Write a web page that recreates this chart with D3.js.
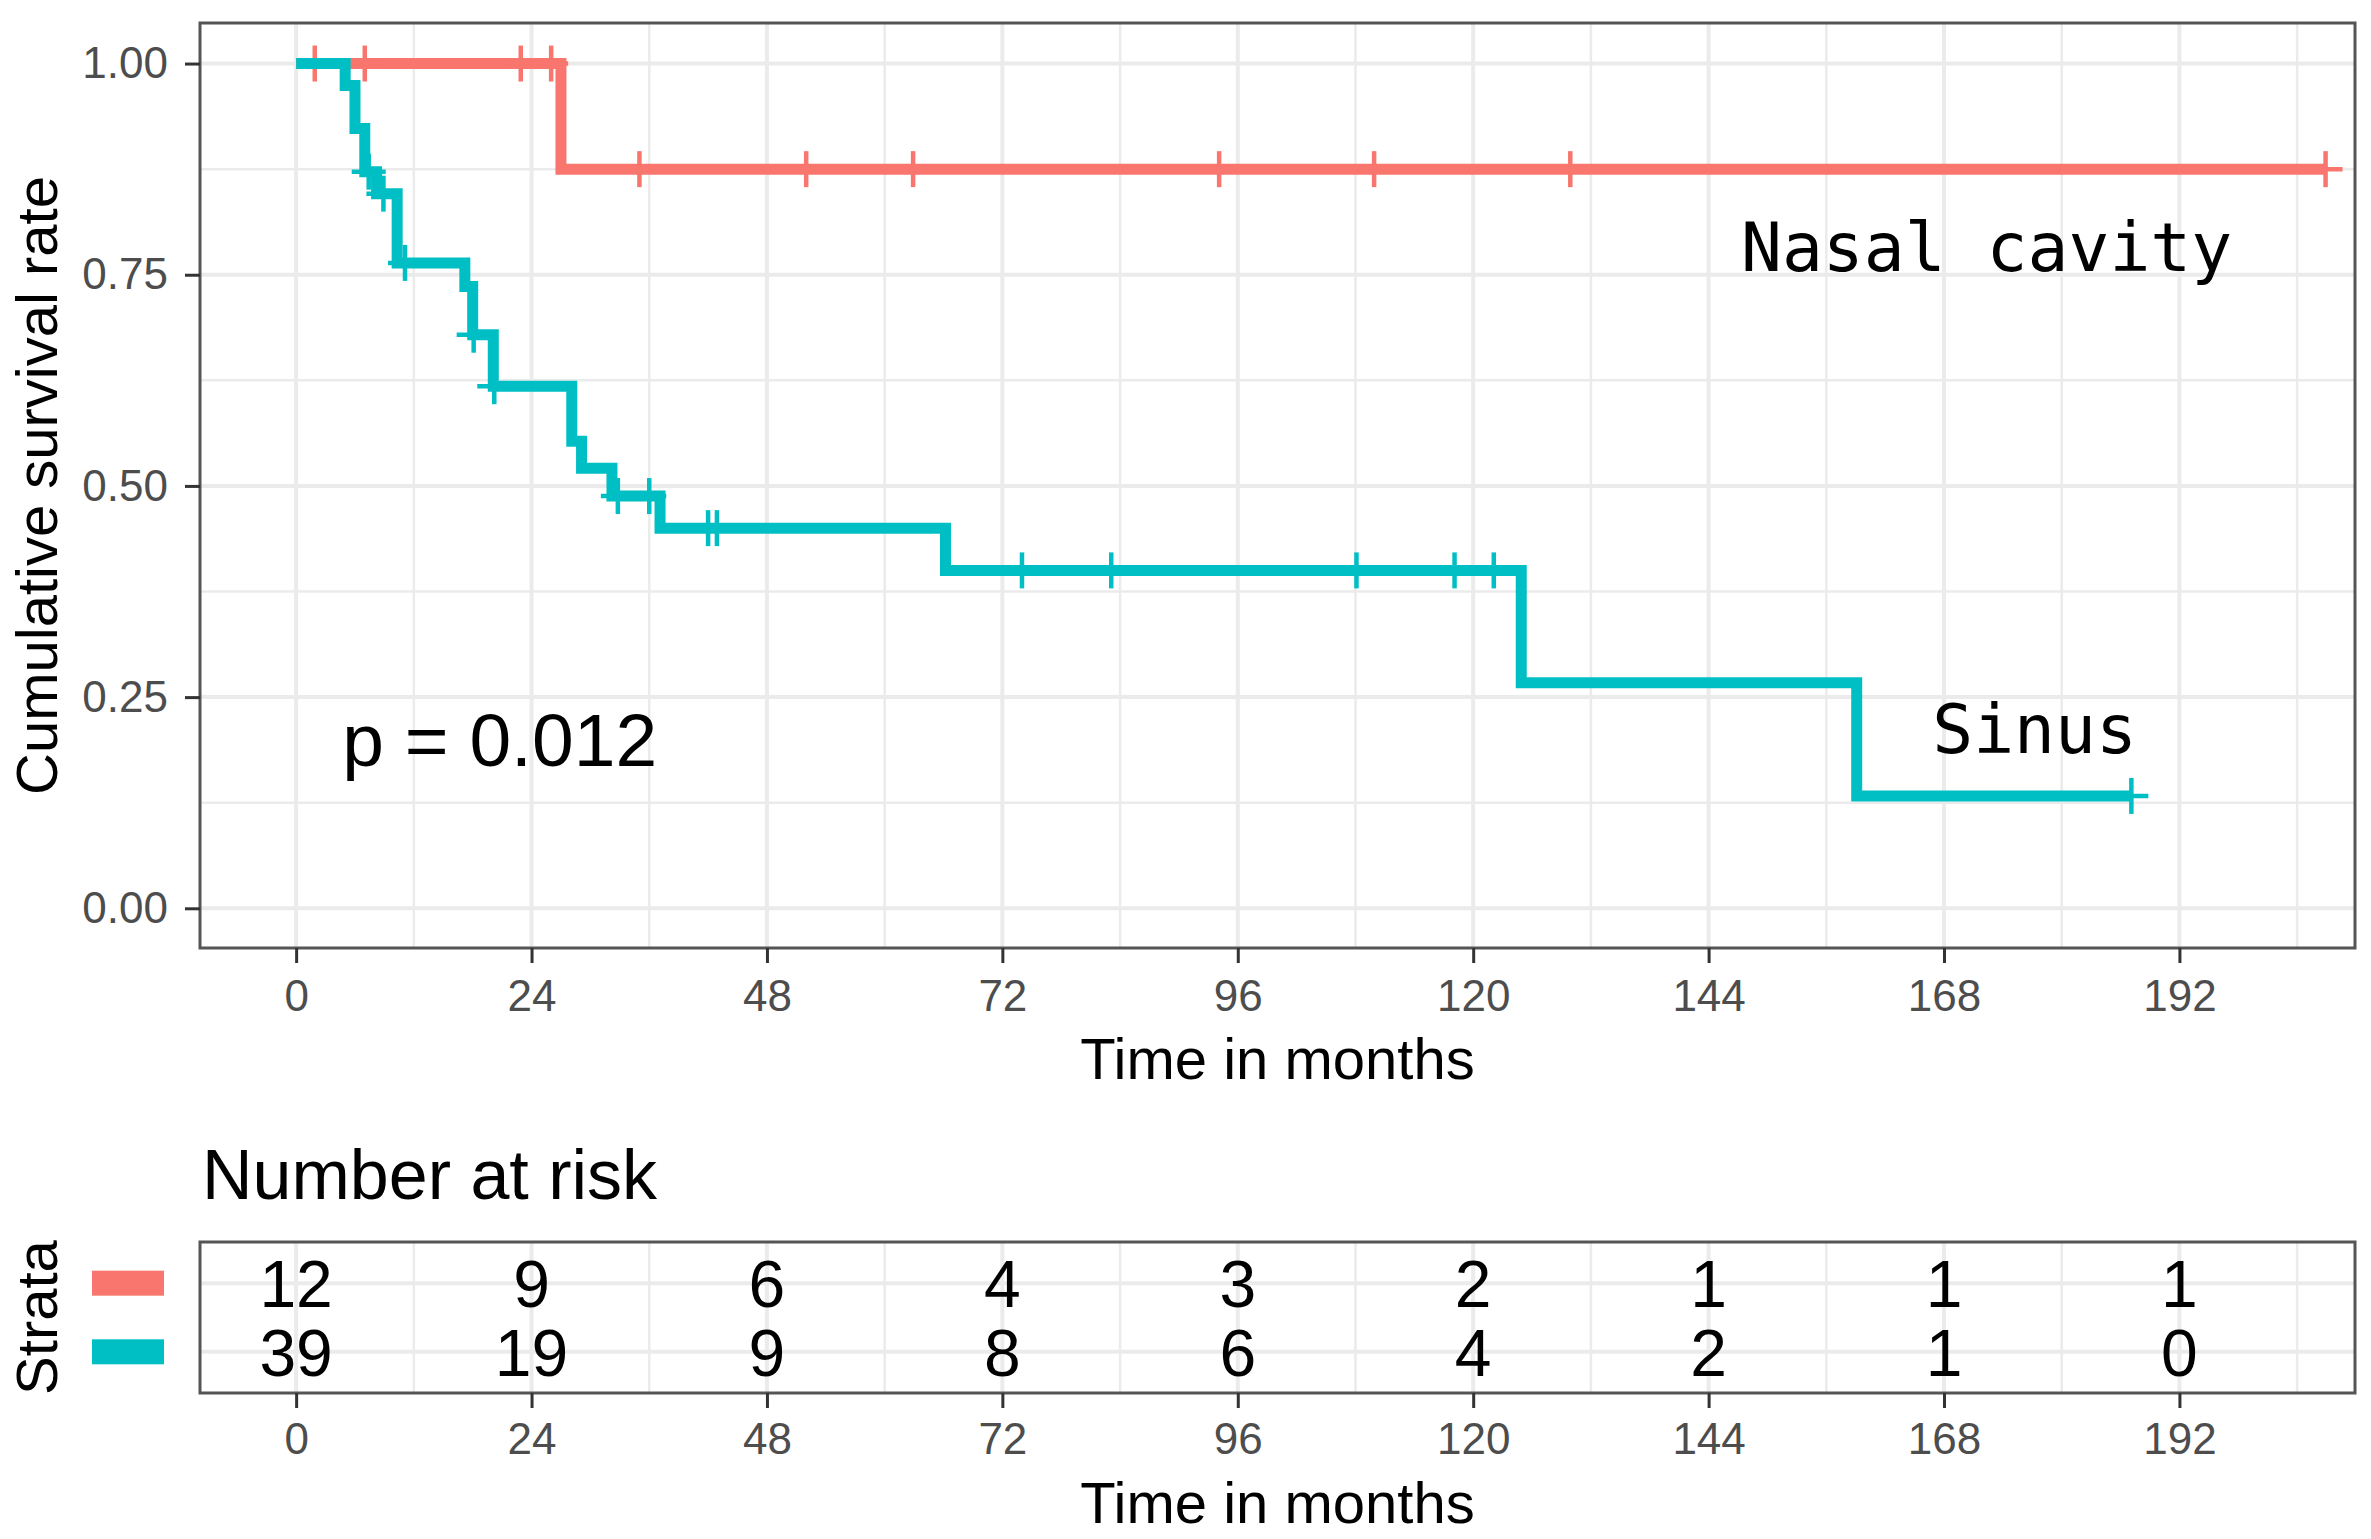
<!DOCTYPE html>
<html>
<head>
<meta charset="utf-8">
<script src="https://cdn.jsdelivr.net/npm/d3@7"></script>
<style>
  body { margin: 0; background: #fff; }
  text { font-family: "Liberation Sans", Arial, sans-serif; }
</style>
</head>
<body>
<div id="chart"></div>
<script>
// survival steps (time in months, survival after the step)
var nasalTime = [0, 27.0, 206.9];
var nasalSurv = [1, 0.875, 0.875];
var nasalCensor = [1.9, 7.0, 22.9, 26.0, 35.0, 52.0, 62.9, 94.1, 109.9, 129.9, 206.9];

var sinusTime = [0, 5.0, 6.0, 7.0, 8.2, 10.3, 17.2, 18.0, 20.1, 28.1, 29.1, 32.2, 37.1, 66.2, 124.9, 159.1, 187.1];
var sinusSurv = [1, 0.974, 0.923, 0.872, 0.846, 0.764, 0.736, 0.679, 0.618, 0.553, 0.521, 0.488, 0.450, 0.400, 0.267, 0.133, 0.133];
var sinusCensor = [7.4, 8.9, 11.1, 18.1, 20.2, 32.8, 36.0, 42.0, 42.9, 74.0, 83.1, 108.1, 118.1, 122.1, 187.1];

// number at risk table
var riskTimes = [0, 24, 48, 72, 96, 120, 144, 168, 192];
var riskNasal = [12, 9, 6, 4, 3, 2, 1, 1, 1];
var riskSinus = [39, 19, 9, 8, 6, 4, 2, 1, 0];

var strata = ['Nasal cavity', 'Sinus'];
var colors = ['#F8766D', '#00BFC4'];
var xTicks = [0, 24, 48, 72, 96, 120, 144, 168, 192];
var xMinor = [12, 36, 60, 84, 108, 132, 156, 180, 204];
var yTicks = [0, 0.25, 0.5, 0.75, 1];
var yMinor = [0.125, 0.375, 0.625, 0.875];

var pText = 'p = 0.012';
var pCoord = [4.7, 0.168];
var labelCoord = [[147.3, 0.755], [166.8, 0.184]];

//Width and height
var w = 2371;
var h = 1539;

var left = 200, right = 2355;
var top1 = 23, bottom1 = 948;
var top2 = 1242, bottom2 = 1393;

var x = d3.scaleLinear().domain([-9.8, 209.9]).range([left, right]);
var y = d3.scaleLinear().domain([-0.047, 1.048]).range([bottom1, top1]);
var yRisk = d3.scalePoint().domain(strata).range([top2, bottom2]).padding(0.6);

var svg = d3.select('#chart')
    .append('svg')
    .attr('width', w)
    .attr('height', h);

var gridColor = '#ebebeb';

function drawGrid(g, yVals, yMin, yT, yB) {
    g.selectAll('.vminor').data(xMinor).enter().append('line')
        .attr('x1', d => x(d)).attr('x2', d => x(d))
        .attr('y1', yT).attr('y2', yB)
        .attr('stroke', gridColor).attr('stroke-width', 2.5);
    g.selectAll('.vmajor').data(xTicks).enter().append('line')
        .attr('x1', d => x(d)).attr('x2', d => x(d))
        .attr('y1', yT).attr('y2', yB)
        .attr('stroke', gridColor).attr('stroke-width', 4);
    g.selectAll('.hminor').data(yMin).enter().append('line')
        .attr('x1', left).attr('x2', right)
        .attr('y1', d => d).attr('y2', d => d)
        .attr('stroke', gridColor).attr('stroke-width', 2.5);
    g.selectAll('.hmajor').data(yVals).enter().append('line')
        .attr('x1', left).attr('x2', right)
        .attr('y1', d => d).attr('y2', d => d)
        .attr('stroke', gridColor).attr('stroke-width', 4);
}

// main panel
var main = svg.append('g');
drawGrid(main, yTicks.map(y), yMinor.map(y), top1, bottom1);

var line = d3.line()
    .x(d => x(d[0]))
    .y(d => y(d[1]))
    .curve(d3.curveStepAfter);

function survAt(times, surv, t) {
    var i = d3.bisectRight(times, t) - 1;
    return surv[Math.max(0, i)];
}

var series = [
    { time: nasalTime, surv: nasalSurv, censor: nasalCensor, color: colors[0] },
    { time: sinusTime, surv: sinusSurv, censor: sinusCensor, color: colors[1] }
];

series.forEach(function(s) {
    var pts = s.time.map((t, i) => [t, s.surv[i]]);
    main.append('path')
        .attr('d', line(pts))
        .attr('fill', 'none')
        .attr('stroke', s.color)
        .attr('stroke-width', 11);
    var c = main.append('g');
    s.censor.forEach(function(t) {
        var cx = x(t), cy = y(survAt(s.time, s.surv, t));
        c.append('line').attr('x1', cx).attr('x2', cx).attr('y1', cy - 18).attr('y2', cy + 18)
            .attr('stroke', s.color).attr('stroke-width', 4.5);
        c.append('line').attr('x1', cx - 17).attr('x2', cx + 17).attr('y1', cy).attr('y2', cy)
            .attr('stroke', s.color).attr('stroke-width', 4.5);
    });
});

main.append('rect')
    .attr('x', left).attr('y', top1)
    .attr('width', right - left).attr('height', bottom1 - top1)
    .attr('fill', 'none').attr('stroke', '#555').attr('stroke-width', 3);

// axes
var xAxis = main.append('g')
    .attr('transform', 'translate(0,' + bottom1 + ')')
    .call(d3.axisBottom(x).tickValues(xTicks).tickSize(15).tickPadding(17));
var yAxis = main.append('g')
    .attr('transform', 'translate(' + left + ',0)')
    .call(d3.axisLeft(y).tickValues(yTicks).tickFormat(d3.format('.2f')).tickSize(15).tickPadding(17));

[xAxis, yAxis].forEach(function(a) {
    a.select('.domain').remove();
    a.selectAll('line').attr('stroke', '#333').attr('stroke-width', 3);
    a.selectAll('text').attr('fill', '#4d4d4d').style('font-size', '44px')
        .style('font-family', '"Liberation Sans", Arial, sans-serif');
});

main.append('text')
    .attr('x', (left + right) / 2).attr('y', 1079)
    .attr('text-anchor', 'middle')
    .style('font-size', '58px')
    .text('Time in months');

main.append('text')
    .attr('transform', 'translate(57,' + (top1 + bottom1) / 2 + ') rotate(-90)')
    .attr('text-anchor', 'middle')
    .style('font-size', '58px')
    .text('Cumulative survival rate');

main.append('text')
    .attr('x', x(pCoord[0])).attr('y', y(pCoord[1]))
    .style('font-size', '75px')
    .text(pText);

strata.forEach(function(name, i) {
    main.append('text')
        .attr('x', x(labelCoord[i][0])).attr('y', y(labelCoord[i][1]))
        .style('font-family', '"DejaVu Sans Mono", "Liberation Mono", monospace')
        .style('font-size', '68px')
        .text(name);
});

// risk table
var risk = svg.append('g');
risk.append('text')
    .attr('x', left + 2).attr('y', 1199)
    .style('font-size', '70px')
    .text('Number at risk');

drawGrid(risk, strata.map(yRisk), [], top2, bottom2);

var riskRows = [riskNasal, riskSinus];
riskRows.forEach(function(row, i) {
    risk.selectAll('.n' + i).data(row).enter().append('text')
        .attr('x', (d, j) => x(riskTimes[j]))
        .attr('y', yRisk(strata[i]))
        .attr('dy', '0.36em')
        .attr('text-anchor', 'middle')
        .style('font-size', '66px')
        .text(d => d);
});

risk.append('rect')
    .attr('x', left).attr('y', top2)
    .attr('width', right - left).attr('height', bottom2 - top2)
    .attr('fill', 'none').attr('stroke', '#555').attr('stroke-width', 3);

var xAxis2 = risk.append('g')
    .attr('transform', 'translate(0,' + bottom2 + ')')
    .call(d3.axisBottom(x).tickValues(xTicks).tickSize(15).tickPadding(15));
xAxis2.select('.domain').remove();
xAxis2.selectAll('line').attr('stroke', '#333').attr('stroke-width', 3);
xAxis2.selectAll('text').attr('fill', '#4d4d4d').style('font-size', '44px')
    .style('font-family', '"Liberation Sans", Arial, sans-serif');

risk.append('text')
    .attr('x', (left + right) / 2).attr('y', 1523)
    .attr('text-anchor', 'middle')
    .style('font-size', '58px')
    .text('Time in months');

// strata legend
risk.selectAll('.swatch').data(strata).enter().append('rect')
    .attr('x', 92).attr('y', d => yRisk(d) - 12.5)
    .attr('width', 72).attr('height', 25)
    .attr('fill', (d, i) => colors[i]);

risk.append('text')
    .attr('transform', 'translate(57,' + (top2 + bottom2) / 2 + ') rotate(-90)')
    .attr('text-anchor', 'middle')
    .style('font-size', '58px')
    .text('Strata');
</script>
</body>
</html>
